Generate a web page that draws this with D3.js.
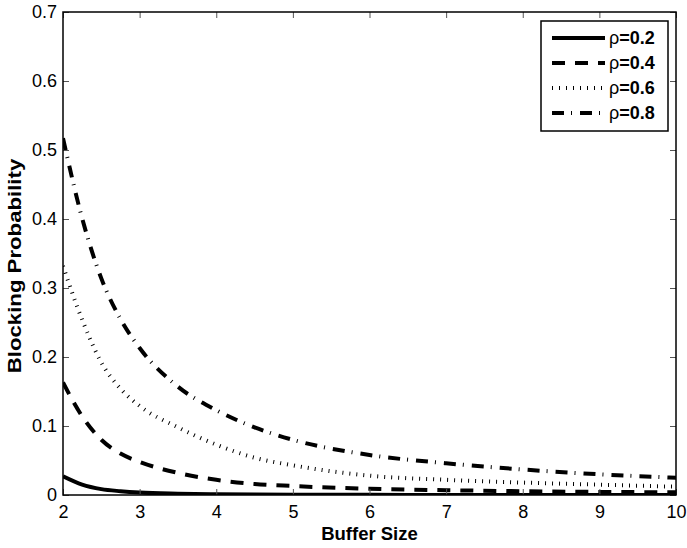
<!DOCTYPE html>
<html>
<head>
<meta charset="utf-8">
<script src="https://cdn.jsdelivr.net/npm/d3@7"></script>
<style>
  html, body { margin: 0; padding: 0; background: #fff; }
  svg { display: block; font-family: "Liberation Sans", Arial, Helvetica, sans-serif; }
</style>
</head>
<body>
<svg id="chart" width="687" height="548"></svg>
<script>
// Buffer sizes at which the blocking probability was sampled
const bufferSizes = [2, 2.25, 2.5, 2.75, 3, 3.5, 4, 4.5, 5, 6, 7, 8, 9, 10];

// Blocking probability for each load ρ
const rho02 = [0.027, 0.015, 0.0085, 0.0055, 0.0035, 0.0018, 0.001, 0.0006, 0.0004, 0.0002, 0.0001, 0.0001, 0.00005, 0.00003];
const rho04 = [0.163, 0.114, 0.080, 0.060, 0.048, 0.032, 0.022, 0.016, 0.013, 0.009, 0.007, 0.0055, 0.0045, 0.004];
const rho06 = [0.332, 0.254, 0.192, 0.154, 0.129, 0.098, 0.073, 0.054, 0.043, 0.028, 0.022, 0.018, 0.015, 0.012];
const rho08 = [0.517, 0.401, 0.314, 0.255, 0.213, 0.157, 0.123, 0.098, 0.080, 0.058, 0.046, 0.037, 0.030, 0.025];

const seriesLabels = ["0.2", "0.4", "0.6", "0.8"];
const xTicks = [2, 3, 4, 5, 6, 7, 8, 9, 10];
const yTicks = [0, 0.1, 0.2, 0.3, 0.4, 0.5, 0.6, 0.7];

const series = [
  { label: seriesLabels[0], values: rho02, dash: null },
  { label: seriesLabels[1], values: rho04, dash: "13,10" },
  { label: seriesLabels[2], values: rho06, dash: "1,6" },
  { label: seriesLabels[3], values: rho08, dash: "12,7,1,8" }
];

const W = 687, H = 548;
const margin = { top: 12, right: 11, bottom: 53, left: 63 };
const iw = W - margin.left - margin.right;
const ih = H - margin.top - margin.bottom;

const svg = d3.select("#chart");
const g = svg.append("g").attr("transform", `translate(${margin.left},${margin.top})`);

const x = d3.scaleLinear().domain([2, 10]).range([0, iw]);
const y = d3.scaleLinear().domain([0, 0.7]).range([ih, 0]);

g.append("defs").append("clipPath").attr("id", "plotClip")
  .append("rect").attr("width", iw).attr("height", ih);

// Curves
const line = d3.line()
  .x((d, i) => x(bufferSizes[i]))
  .y(d => y(d))
  .curve(d3.curveMonotoneX);

g.append("g").attr("clip-path", "url(#plotClip)")
  .selectAll("path.series")
  .data(series)
  .join("path")
  .attr("class", "series")
  .attr("fill", "none")
  .attr("stroke", "#000")
  .attr("stroke-width", 4)
  .attr("stroke-dasharray", d => d.dash)
  .attr("d", d => line(d.values));

// Axes with inward ticks on all four sides
const tickLen = 6;
const fmtY = d => d === 0 ? "0" : d3.format(".1f")(d);

const axisB = g.append("g").attr("transform", `translate(0,${ih})`)
  .call(d3.axisBottom(x).tickValues(xTicks).tickSizeInner(-tickLen).tickSizeOuter(0).tickPadding(10).tickFormat(d3.format("d")));
const axisL = g.append("g")
  .call(d3.axisLeft(y).tickValues(yTicks).tickSizeInner(-tickLen).tickSizeOuter(0).tickPadding(6).tickFormat(fmtY));
const axisT = g.append("g")
  .call(d3.axisTop(x).tickValues(xTicks).tickSizeInner(-tickLen).tickSizeOuter(0).tickFormat(""));
const axisR = g.append("g").attr("transform", `translate(${iw},0)`)
  .call(d3.axisRight(y).tickValues(yTicks).tickSizeInner(-tickLen).tickSizeOuter(0).tickFormat(""));

[axisB, axisL, axisT, axisR].forEach(a => {
  a.select(".domain").remove();
  a.selectAll(".tick line").attr("stroke", "#555").attr("stroke-width", 1);
  a.selectAll(".tick text").attr("fill", "#000").attr("font-size", 18)
    .attr("font-family", "'Liberation Sans', Arial, sans-serif");
});

// Plot frame
g.append("rect").attr("width", iw).attr("height", ih)
  .attr("fill", "none").attr("stroke", "#000").attr("stroke-width", 1.5);

// Axis titles
svg.append("text")
  .attr("x", margin.left + iw / 2).attr("y", 540)
  .attr("text-anchor", "middle").attr("font-size", 18.5).attr("font-weight", "bold")
  .text("Buffer Size");

svg.append("text")
  .attr("transform", `translate(21,266) rotate(-90) scale(1.2,1)`)
  .attr("text-anchor", "middle").attr("font-size", 18.5).attr("font-weight", "bold")
  .text("Blocking Probability");

// Legend
const lg = svg.append("g").attr("transform", "translate(541,21)");
lg.append("rect").attr("width", 127).attr("height", 110)
  .attr("fill", "#fff").attr("stroke", "#000").attr("stroke-width", 1.5);

const rows = lg.selectAll("g.row").data(series).join("g")
  .attr("class", "row")
  .attr("transform", (d, i) => `translate(0,${17 + i * 25})`);

rows.append("line")
  .attr("x1", 11).attr("x2", 64).attr("y1", 0).attr("y2", 0)
  .attr("stroke", "#000").attr("stroke-width", 4)
  .attr("stroke-dasharray", d => d.dash);

const lt = rows.append("text").attr("x", 68).attr("y", 6).attr("font-size", 18);
lt.append("tspan").attr("font-weight", "normal").text("ρ");
lt.append("tspan").attr("font-weight", "bold").text(d => "=" + d.label);
</script>
</body>
</html>
